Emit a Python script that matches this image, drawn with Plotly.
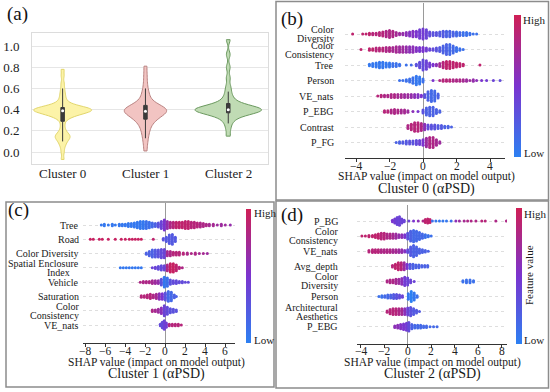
import numpy as np
import plotly.graph_objects as go

W, H = 550, 392
FONT = "Liberation Serif, Times New Roman, serif"

# ---------------- data: panel (a) violin samples ----------------
violin_labels = ["Cluster 0", "Cluster 1", "Cluster 2"]
cluster0_vals = [-0.07, 0.00, 0.05, 0.08, 0.10, 0.12, 0.13, 0.14, 0.15, 0.16, 0.17, 0.19, 0.22, 0.26, 0.30,
                 0.32, 0.33, 0.34, 0.35, 0.35, 0.36, 0.36, 0.37, 0.37, 0.37, 0.38, 0.38, 0.38, 0.39, 0.39,
                 0.39, 0.39, 0.40, 0.40, 0.40, 0.40, 0.40, 0.41, 0.41, 0.41, 0.41, 0.42, 0.42, 0.42, 0.43,
                 0.43, 0.44, 0.45, 0.46, 0.48, 0.50, 0.53, 0.56, 0.60, 0.65, 0.72, 0.78]
cluster1_vals = [0.01, 0.08, 0.13, 0.17, 0.20, 0.23, 0.25, 0.27, 0.29, 0.30, 0.31, 0.32, 0.33, 0.34, 0.35,
                 0.35, 0.36, 0.37, 0.37, 0.38, 0.38, 0.39, 0.39, 0.40, 0.40, 0.40, 0.41, 0.41, 0.42, 0.42,
                 0.43, 0.44, 0.45, 0.46, 0.48, 0.50, 0.53, 0.56, 0.60, 0.66, 0.73, 0.81]
cluster2_vals = [0.15, 0.22, 0.27, 0.30, 0.32, 0.34, 0.35, 0.36, 0.36, 0.37, 0.37, 0.38, 0.38, 0.39, 0.39,
                 0.39, 0.40, 0.40, 0.40, 0.40, 0.41, 0.41, 0.41, 0.42, 0.42, 0.43, 0.43, 0.44, 0.45, 0.46,
                 0.48, 0.50, 0.53, 0.57, 0.62, 0.70, 0.80, 0.92, 1.06]
y_ticks_a = [0.0, 0.2, 0.4, 0.6, 0.8, 1.0]

# ---------------- data: SHAP beeswarms ----------------
# each group: (SHAP value, number of stacked points, feature value 0=low..1=high)
b_features = ["Color\nDiversity", "Color\nConsistency", "Tree", "Person", "VE_nats", "P_EBG", "Contrast", "P_FG"]
b_groups = [
    [(-4.2,1,.9),(-3.6,1,.9),(-3.4,1,.9),(-3.2,2,.9),(-3.0,2,.85),(-2.8,2,.85),(-2.6,3,.85),(-2.4,4,.85),
     (-2.2,5,.8),(-2.0,6,.8),(-1.8,5,.8),(-1.6,3,.75),(-1.4,2,.7),(-1.2,2,.65),(-1.0,3,.6),(-0.8,4,.55),
     (-0.6,5,.55),(-0.4,5,.5),(-0.2,7,.45),(0.0,8,.45),(0.2,7,.4),(0.4,4,.35),(0.6,3,.3),(0.8,3,.3),
     (1.0,4,.25),(1.2,5,.25),(1.4,5,.2),(1.6,5,.2),(1.8,4,.2),(2.0,4,.15),(2.2,3,.15),(2.4,3,.1),
     (2.6,3,.1),(2.8,2,.1),(3.0,1,.1),(3.2,1,.1)],
    [(-3.7,1,.9),(-3.2,2,.9),(-3.0,2,.9),(-2.8,3,.85),(-2.6,3,.85),(-2.4,3,.85),(-2.2,4,.8),(-2.0,4,.8),
     (-1.8,4,.75),(-1.6,5,.75),(-1.4,5,.7),(-1.2,5,.7),(-1.0,5,.65),(-0.8,5,.6),(-0.6,5,.6),(-0.4,4,.55),
     (-0.2,4,.5),(0.0,4,.5),(0.2,3,.45),(0.4,2,.4),(0.6,2,.35),(0.8,3,.3),(1.0,4,.25),(1.2,6,.2),
     (1.4,8,.2),(1.6,8,.15),(1.8,6,.15),(2.0,4,.1),(2.2,2,.1),(2.4,1,.1)],
    [(-3.2,2,.05),(-3.0,3,.05),(-2.8,4,.05),(-2.6,5,.05),(-2.4,5,.05),(-2.2,4,.05),(-2.0,4,.05),(-1.8,3,.1),
     (-1.6,3,.1),(-1.4,2,.1),(-1.0,1,.1),(-0.7,1,.15),(-0.4,2,.3),(-0.2,5,.35),(0.0,8,.35),(0.2,7,.4),
     (0.4,4,.45),(0.6,2,.5),(0.8,2,.6),(1.0,3,.75),(1.2,5,.85),(1.4,6,.9),(1.6,6,.9),(1.8,5,.9),
     (2.0,4,.9),(2.2,3,.9),(2.4,2,.9),(3.4,1,.9)],
    [(-1.4,1,.1),(-1.2,1,.1),(-1.0,2,.1),(-0.8,3,.1),(-0.6,5,.1),(-0.4,7,.05),(-0.2,6,.05),(0.0,3,.1),
     (0.6,1,.5),(1.0,1,.8),(1.2,2,.85),(1.4,2,.85),(1.6,2,.85),(1.8,2,.8),(2.0,2,.8),(2.2,2,.8),
     (2.4,2,.75),(2.6,2,.7),(2.8,1,.7),(3.0,2,.65),(3.2,1,.6),(3.5,1,.5),(3.8,1,.45),(4.2,1,.4),(4.6,1,.35)],
    [(-2.7,1,.85),(-2.5,2,.85),(-2.3,2,.8),(-2.1,2,.8),(-1.9,3,.8),(-1.7,3,.8),(-1.5,3,.75),(-1.3,3,.75),
     (-1.1,3,.7),(-0.9,3,.7),(-0.7,3,.65),(-0.5,3,.6),(-0.3,3,.55),(-0.1,2,.5),(0.1,3,.3),(0.3,7,.2),
     (0.5,9,.15),(0.7,8,.15),(0.9,4,.2)],
    [(-2.3,2,.85),(-2.1,2,.85),(-1.9,3,.8),(-1.7,4,.8),(-1.5,3,.8),(-1.3,3,.75),(-1.1,3,.75),(-0.9,2,.7),
     (-0.6,1,.6),(-0.3,1,.5),(0.0,3,.3),(0.2,6,.2),(0.4,7,.2),(0.6,7,.2),(0.8,4,.2),(1.0,2,.2)],
    [(-0.9,3,.8),(-0.7,5,.85),(-0.5,7,.85),(-0.3,7,.85),(-0.1,6,.8),(0.1,5,.6),(0.3,4,.35),(0.5,4,.3),
     (0.7,4,.3),(0.9,3,.25),(1.1,3,.25),(1.3,2,.2),(1.5,2,.2),(1.7,1,.2)],
    [(-1.6,1,.2),(-1.4,2,.2),(-1.2,2,.25),(-1.0,3,.25),(-0.8,3,.3),(-0.6,3,.3),(-0.4,4,.35),(-0.2,4,.4),
     (0.0,5,.5),(0.2,7,.7),(0.4,8,.8),(0.6,8,.8),(0.8,5,.75),(1.0,2,.7)],
]
b_ticks = [-4, -2, 0, 2, 4]

c_features = ["Tree", "Road", "Color Diversity", "Spatial Enclosure\nIndex", "Vehicle", "Saturation",
              "Color\nConsistency", "VE_nats"]
c_groups = [
    [(-6.4,1,.05),(-6.1,2,.05),(-5.7,1,.05),(-5.3,2,.05),(-5.0,1,.05),(-4.6,2,.05),(-4.3,2,.05),(-4.0,2,.05),
     (-3.7,3,.05),(-3.4,3,.05),(-3.1,4,.05),(-2.8,5,.05),(-2.5,6,.05),(-2.2,6,.05),(-1.9,6,.1),(-1.6,5,.1),
     (-1.3,4,.15),(-1.0,3,.2),(-0.7,4,.3),(-0.4,6,.4),(-0.1,8,.5),(0.2,6,.65),(0.5,5,.8),(0.8,5,.85),
     (1.1,5,.9),(1.4,5,.9),(1.7,5,.9),(2.0,6,.9),(2.3,6,.9),(2.6,5,.85),(2.9,5,.85),(3.2,4,.85),
     (3.5,4,.8),(3.8,3,.8),(4.1,2,.8),(4.4,2,.75),(4.8,2,.75),(5.2,1,.7),(5.6,2,.7),(6.0,1,.7),(6.5,1,.65)],
    [(-7.5,1,.95),(-7.2,1,.95),(-6.6,1,.95),(-6.3,1,.95),(-5.7,1,.95),(-5.0,1,.95),(-4.4,1,.95),(-4.0,1,.95),
     (-3.6,1,.95),(-3.3,1,.95),(-3.0,1,.95),(-2.7,1,.95),(-2.4,1,.95),(-1.2,1,.9),(-0.2,2,.3),(0.1,4,.25),
     (0.4,7,.25),(0.7,8,.25),(1.0,4,.25)],
    [(-1.9,2,.2),(-1.6,4,.2),(-1.3,6,.2),(-1.0,6,.25),(-0.7,6,.3),(-0.4,7,.35),(-0.1,7,.4),(0.2,4,.75),
     (0.5,4,.8),(0.8,3,.85),(1.1,3,.85),(1.4,3,.85),(1.8,2,.85),(2.2,2,.8),(2.6,1,.8),(3.0,2,.8),
     (3.4,1,.75),(3.8,1,.75),(4.2,1,.7)],
    [(-4.5,1,.05),(-4.2,1,.05),(-3.9,1,.05),(-3.6,1,.05),(-3.3,1,.05),(-3.0,1,.05),(-2.7,1,.05),(-2.4,1,.05),
     (-1.3,1,.4),(-1.0,2,.4),(-0.7,3,.35),(-0.4,4,.35),(-0.1,4,.4),(0.2,5,.8),(0.5,7,.95),(0.8,7,.95),
     (1.1,5,.9),(1.4,2,.85),(1.7,1,.8)],
    [(-2.5,1,.8),(-2.2,2,.8),(-1.9,2,.8),(-1.6,2,.8),(-1.3,3,.75),(-1.0,3,.7),(-0.7,3,.65),(-0.4,5,.3),
     (-0.1,8,.05),(0.2,7,.1),(0.5,4,.3),(0.8,3,.35),(1.1,3,.35),(1.4,2,.35),(1.7,2,.35),(2.0,1,.35),(2.3,1,.35)],
    [(-2.4,2,.85),(-2.1,2,.85),(-1.8,3,.85),(-1.5,4,.85),(-1.2,3,.8),(-0.9,4,.75),(-0.6,5,.6),(-0.3,5,.5),
     (0.0,6,.3),(0.3,8,.15),(0.6,7,.15),(0.9,3,.2),(1.1,1,.2)],
    [(-1.3,2,.8),(-1.0,2,.75),(-0.7,3,.7),(-0.4,5,.6),(-0.1,8,.4),(0.2,6,.35),(0.5,4,.3),(0.8,3,.3),(1.1,2,.3)],
    [(-0.5,2,.35),(-0.3,5,.35),(-0.1,7,.4),(0.1,4,.45),(0.4,2,.8),(0.7,2,.85),(1.0,2,.85),(1.3,2,.85),(1.6,1,.85)],
]
c_ticks = [-8, -6, -4, -2, 0, 2, 4, 6]

d_features = ["P_BG", "Color\nConsistency", "VE_nats", "Avg_depth", "Color\nDiversity", "Person",
              "Architectural\nAesthetics", "P_EBG"]
d_groups = [
    [(-1.3,2,.5),(-1.1,4,.45),(-0.9,6,.4),(-0.7,7,.4),(-0.5,4,.4),(-0.3,2,.4),(0.1,1,.4),(0.5,1,.5),
     (0.9,1,.6),(1.3,1,.8),(1.5,3,.9),(1.7,4,.9),(1.9,3,.9),(2.1,1,.1),(2.4,1,.05),(2.7,1,.05),(3.0,1,.05),
     (3.3,1,.05),(3.7,1,.1),(4.1,1,.6),(4.4,1,.7),(4.8,1,.75),(5.1,1,.8),(5.4,1,.8),(5.8,1,.8),(6.3,1,.85),
     (6.6,1,.85),(7.5,1,.8),(8.4,1,.8)],
    [(-3.9,1,.9),(-3.6,1,.9),(-3.3,2,.9),(-3.0,2,.9),(-2.75,3,.9),(-2.5,4,.9),(-2.25,5,.85),(-2.0,5,.85),
     (-1.75,4,.8),(-1.5,4,.8),(-1.25,4,.75),(-1.0,4,.7),(-0.75,3,.65),(-0.5,3,.6),(-0.25,3,.5),(0.0,5,.3),
     (0.25,8,.2),(0.5,9,.15),(0.75,8,.15),(1.0,6,.15),(1.25,4,.15),(1.5,3,.1),(1.75,2,.1),(2.0,1,.1)],
    [(-3.3,2,.85),(-3.0,3,.85),(-2.75,3,.85),(-2.5,3,.85),(-2.25,3,.8),(-2.0,3,.8),(-1.75,3,.8),(-1.5,3,.8),
     (-1.25,3,.75),(-1.0,3,.75),(-0.75,3,.7),(-0.5,3,.65),(-0.25,2,.55),(0.0,3,.35),(0.25,7,.25),(0.5,9,.2),
     (0.75,7,.2),(1.0,4,.2),(1.25,3,.2),(1.5,2,.2),(1.75,1,.2)],
    [(-1.3,2,.85),(-1.05,4,.9),(-0.8,6,.9),(-0.55,6,.85),(-0.3,6,.7),(-0.05,4,.5),(0.2,4,.25),(0.45,4,.2),
     (0.7,3,.2),(0.95,3,.2),(1.2,2,.2),(1.45,2,.2),(1.7,2,.2)],
    [(-1.75,2,.8),(-1.5,3,.8),(-1.25,3,.8),(-1.0,4,.75),(-0.75,4,.7),(-0.5,5,.6),(-0.25,7,.45),(0.0,6,.4),
     (0.25,3,.4),(0.55,1,.4),(4.7,2,.1),(5.0,3,.1),(5.3,3,.1),(5.6,2,.1)],
    [(-2.45,1,.1),(-2.2,2,.1),(-1.95,2,.15),(-1.7,3,.15),(-1.45,3,.2),(-1.2,4,.25),(-0.95,4,.3),(-0.7,3,.35),
     (-0.45,2,.4),(0.05,5,.05),(0.3,8,.0),(0.55,6,.05),(0.8,2,.1)],
    [(-1.75,2,.85),(-1.5,4,.85),(-1.25,5,.85),(-1.0,5,.85),(-0.75,5,.8),(-0.5,5,.75),(-0.25,5,.6),(0.0,6,.4),
     (0.25,7,.3),(0.5,5,.25),(0.75,3,.25),(1.0,1,.25)],
    [(-1.1,2,.6),(-0.85,3,.6),(-0.6,4,.55),(-0.35,5,.5),(-0.1,6,.45),(0.1,7,.35),(0.35,4,.2),(0.6,3,.15),
     (0.85,3,.15),(1.1,3,.15),(1.35,2,.15),(1.6,2,.15),(1.9,1,.15),(2.2,1,.15),(2.5,1,.15)],
]
d_ticks = [-4, -2, 0, 2, 4, 6, 8]

panel_titles = ["Cluster 0 (αPSD)", "Cluster 1 (αPSD)", "Cluster 2 (αPSD)"]
x_title = "SHAP value (impact on model output)"

# ---------------- helpers ----------------
def px_x(p):
    return p / W

def px_y(p):
    return 1 - p / H

CS = [[0, "#2c80f2"], [0.5, "#7b34cf"], [1, "#cf1f55"]]


def swarm(groups, px_per_row, step_px=1.4):
    xs, ys, cs = [], [], []
    dy = step_px / px_per_row
    for i, grp in enumerate(groups):
        for x, n, c in grp:
            for k in range(n):
                xs.append(x)
                ys.append(i + (k - (n - 1) / 2) * dy)
                cs.append(c)
    return xs, ys, cs


fig = go.Figure()
annotations = []
shapes = []

# ---------------- panel (a) ----------------
vcols = [("#fcf3a8", "#e2d66c"), ("#f2c4c2", "#b98281"), ("#c0dbb4", "#6b995f")]
vwidth = [0.70, 0.51, 0.80]
vbw = [0.026, 0.04, 0.032]
for lab, vals, (fc, lc), w, bw in zip(violin_labels, [cluster0_vals, cluster1_vals, cluster2_vals],
                                      vcols, vwidth, vbw):
    fig.add_trace(go.Violin(
        x=[lab] * len(vals), y=vals, xaxis="x", yaxis="y",
        fillcolor=fc, line=dict(color=lc, width=1), width=w, bandwidth=bw,
        spanmode="hard", points=False, scalemode="width",
        box=dict(visible=True, width=3.5 / (w * 83), fillcolor="#3a3a3a",
                 line=dict(color="#3a3a3a", width=1)),
        meanline=dict(visible=False), showlegend=False, hoverinfo="skip"))
    fig.add_trace(go.Scatter(x=[lab], y=[float(np.median(vals))], xaxis="x", yaxis="y", mode="markers",
                             marker=dict(color="white", size=3), showlegend=False, hoverinfo="skip"))
    annotations.append(dict(text=lab, x=lab, xref="x", y=px_y(173.5), yref="paper", xanchor="center",
                            yanchor="middle", showarrow=False,
                            font=dict(family=FONT, size=13, color="#222222")))

# ---------------- SHAP panels ----------------
panels = [
    dict(ax="2", feats=b_features, groups=b_groups, ticks=b_ticks, xdom=(345, 505), ydom=(3, 158.3),
         row0=34, rsp=15.5, zero=423, ppu=16.75, cb=(514, 520.5, 15, 157), lab_r=336,
         tcx=426, ty=(177, 189), hi=(521, 20), lo=(522, 153), title=panel_titles[0], plab=("(b)", 292, 19)),
    dict(ax="3", feats=c_features, groups=c_groups, ticks=c_ticks, xdom=(83, 235), ydom=(203, 343),
         row0=225, rsp=14.29, zero=165.3, ppu=10.0, cb=(245.5, 250.8, 209, 343), lab_r=81,
         tcx=156, ty=(362.5, 374), hi=(251.5, 213), lo=(252, 340), title=panel_titles[1], plab=("(c)", 18, 210)),
    dict(ax="4", feats=d_features, groups=d_groups, ticks=d_ticks, xdom=(357, 507), ydom=(205, 343.5),
         row0=221, rsp=15.1, zero=407.7, ppu=11.75, cb=(515.5, 521, 208, 344), lab_r=340,
         tcx=432, ty=(362.5, 374), hi=(521.5, 214), lo=(522, 340), title=panel_titles[2], plab=("(d)", 292, 215)),
]

layout_axes = {}
for p in panels:
    a = p["ax"]
    xs, ys, cs = swarm(p["groups"], p["rsp"])
    x0, x1, y0, y1 = p["cb"]
    fig.add_trace(go.Scatter(
        x=xs, y=ys, xaxis="x" + a, yaxis="y" + a, mode="markers",
        marker=dict(size=3, color=cs, colorscale=CS, cmin=0, cmax=1, line=dict(width=0),
                    showscale=True,
                    colorbar=dict(x=px_x(x0), xanchor="left", xref="paper", y=px_y(y0), yanchor="top",
                                  yref="paper", len=(y1 - y0) / H, lenmode="fraction",
                                  thickness=x1 - x0, thicknessmode="pixels", outlinewidth=0,
                                  showticklabels=False, ticks="", xpad=0, ypad=0)),
        showlegend=False, hoverinfo="skip"))
    xl, xr = p["xdom"]
    yt, yb = p["ydom"]
    xrng = [(xl - p["zero"]) / p["ppu"], (xr - p["zero"]) / p["ppu"]]
    yrng = [(yb - p["row0"]) / p["rsp"], (yt - p["row0"]) / p["rsp"]]
    layout_axes["xaxis" + a] = dict(
        domain=[px_x(xl), px_x(xr)], range=xrng, anchor="y" + a, showgrid=False,
        zeroline=True, zerolinecolor="#9a9a9a", zerolinewidth=1,
        showline=True, linecolor="#333333", linewidth=1, ticks="outside", ticklen=3, tickcolor="#333333",
        tickvals=p["ticks"], showticklabels=False)
    layout_axes["yaxis" + a] = dict(
        domain=[px_y(yb), px_y(yt)], range=yrng, anchor="x" + a, showticklabels=False,
        tickvals=list(range(len(p["feats"]))), showgrid=True, gridcolor="#dedede", griddash="dot",
        gridwidth=0.6, zeroline=False, showline=False, ticks="")
    for t in p["ticks"]:
        annotations.append(dict(text=("\u2212" + str(abs(t))) if t < 0 else str(t), x=t, xref="x" + a,
                                y=px_y(yb + 7.5), yref="paper", xanchor="center", yanchor="middle",
                                showarrow=False, font=dict(family=FONT, size=11.5, color="#222222")))
    for i, f in enumerate(p["feats"]):
        lines = f.split("\n")
        for j, ln in enumerate(lines):
            shift = 0 if len(lines) == 1 else (4.5 if j == 0 else -4.5)
            xs_ = -9 if ln == "Index" else 0
            annotations.append(dict(text=ln, x=px_x(p["lab_r"]), xref="paper", xanchor="right",
                                    y=i, yref="y" + a, yanchor="middle", yshift=shift, xshift=xs_,
                                    showarrow=False, font=dict(family=FONT, size=10, color="#1a1a1a")))
    annotations.append(dict(text=x_title, x=px_x(p["tcx"]), y=px_y(p["ty"][0]), xref="paper", yref="paper",
                            xanchor="center", yanchor="middle", showarrow=False,
                            font=dict(family=FONT, size=11.5, color="#1a1a1a")))
    annotations.append(dict(text=p["title"], x=px_x(p["tcx"]), y=px_y(p["ty"][1]), xref="paper", yref="paper",
                            xanchor="center", yanchor="middle", showarrow=False,
                            font=dict(family=FONT, size=14, color="#1a1a1a")))
    for txt, (hx, hy) in (("High", p["hi"]), ("Low", p["lo"])):
        annotations.append(dict(text=txt, x=px_x(hx), y=px_y(hy), xref="paper", yref="paper",
                                xanchor="left", yanchor="middle", showarrow=False,
                                font=dict(family=FONT, size=11, color="#1a1a1a")))
    lt, lx, ly = p["plab"]
    annotations.append(dict(text=lt, x=px_x(lx), y=px_y(ly), xref="paper", yref="paper",
                            xanchor="center", yanchor="middle", showarrow=False,
                            font=dict(family=FONT, size=19, color="#111111")))

annotations.append(dict(text="Feature value", x=px_x(529), y=px_y(275), xref="paper", yref="paper",
                        xanchor="center", yanchor="middle", textangle=-90, showarrow=False,
                        font=dict(family=FONT, size=11, color="#1a1a1a")))
annotations.append(dict(text="(a)", x=px_x(17), y=px_y(14), xref="paper", yref="paper",
                        xanchor="center", yanchor="middle", showarrow=False,
                        font=dict(family=FONT, size=19, color="#111111")))

for (l, t, r, b) in [(276, 1.5, 548.5, 200), (276, 201, 548.5, 388), (6, 202, 274, 387)]:
    shapes.append(dict(type="rect", xref="paper", yref="paper", x0=px_x(l), x1=px_x(r),
                       y0=px_y(b), y1=px_y(t), line=dict(color="#8c8c8c", width=1.5)))

fig.update_layout(
    width=W, height=H, margin=dict(l=0, r=0, t=0, b=0),
    plot_bgcolor="white", paper_bgcolor="white", showlegend=False, violinmode="overlay",
    font=dict(family=FONT, color="#1a1a1a"),
    xaxis=dict(domain=[px_x(32), px_x(268)], type="category", categoryorder="array",
               categoryarray=violin_labels, range=[-0.37, 2.48], showgrid=False, zeroline=False,
               showline=True, mirror=True, linecolor="#dcdcdc", linewidth=1, ticks="",
               showticklabels=False, anchor="y"),
    yaxis=dict(domain=[px_y(164), px_y(33)], range=[-0.113, 1.123], tickvals=y_ticks_a,
               tickformat=".1f", showgrid=True, gridcolor="#e6e6e6", gridwidth=1, zeroline=False,
               showline=True, mirror=True, linecolor="#dcdcdc", linewidth=1, ticks="",
               ticklabelstandoff=9, tickfont=dict(family=FONT, size=13, color="#222222"), anchor="x"),
    annotations=annotations, shapes=shapes,
    **layout_axes,
)

fig.write_html("out.html", config={"displayModeBar": False},
               post_script="document.body.style.margin='0';document.body.style.overflow='hidden';")
